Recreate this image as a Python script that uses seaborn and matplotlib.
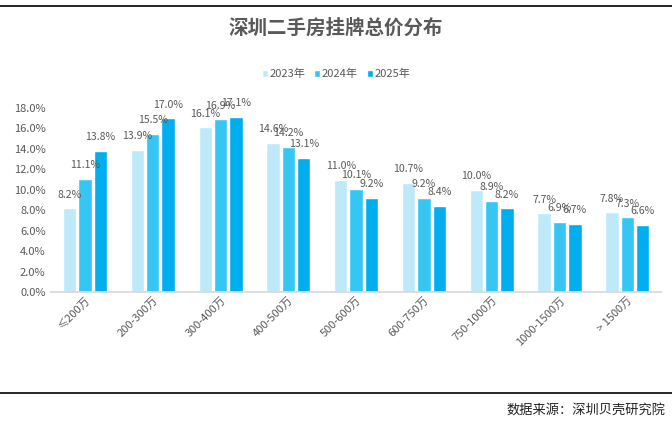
import numpy as np
import matplotlib
matplotlib.use("Agg")
import matplotlib.pyplot as plt
import pandas as pd
import seaborn as sns
from matplotlib.lines import Line2D
from matplotlib.ticker import FuncFormatter, FixedLocator

# 数据
categories = ["≤200万", "200-300万", "300-400万", "400-500万", "500-600万",
              "600-750万", "750-1000万", "1000-1500万", "> 1500万"]
years = ["2023年", "2024年", "2025年"]
v2023 = [8.2, 13.9, 16.1, 14.6, 11.0, 10.7, 10.0, 7.7, 7.8]
v2024 = [11.1, 15.5, 16.9, 14.2, 10.1, 9.2, 8.9, 6.9, 7.3]
v2025 = [13.8, 17.0, 17.1, 13.1, 9.2, 8.4, 8.2, 6.7, 6.6]
colors = ["#BDE9F9", "#35C6F4", "#00AEEF"]

df = pd.DataFrame({
    "区间": categories * 3,
    "年份": [years[0]] * 9 + [years[1]] * 9 + [years[2]] * 9,
    "占比": v2023 + v2024 + v2025,
})

sns.set_theme(style="white")
plt.rcParams['font.family'] = ['Noto Sans CJK SC', 'DejaVu Sans']
gray = "#595959"

fig = plt.figure(figsize=(6.72, 4.48), dpi=100)
ax = fig.add_axes([0.076, 0.348, 0.908, 0.411])

sns.barplot(data=df, x="区间", y="占比", hue="年份", palette=colors,
            saturation=1, width=0.68, gap=0.13, ax=ax, legend=True)

# 数据标签
for cont in ax.containers:
    for bar in cont:
        h = bar.get_height()
        ax.text(bar.get_x() + bar.get_width() / 2, h + 0.85, f"{h:.1f}%",
                ha="center", va="bottom", fontsize=7.6, color=gray, clip_on=False)

ax.set_ylim(0, 18)
ax.set_xlim(-0.5, 8.5)
ax.set_yticks(np.arange(0, 18.1, 2))
ax.yaxis.set_major_formatter(FuncFormatter(lambda v, p: f"{v:.1f}%"))
ax.set_xlabel("")
ax.set_ylabel("")
ax.tick_params(axis="y", labelsize=8, colors=gray, length=0, pad=4)
ax.tick_params(axis="x", which="major", labelsize=8, colors=gray, length=0, pad=2)
plt.setp(ax.get_xticklabels(), rotation=45, ha="right", rotation_mode="anchor")
ax.xaxis.set_minor_locator(FixedLocator(np.arange(-0.5, 9, 1)))
ax.tick_params(axis="x", which="minor", length=4, color="#D9D9D9", width=0.8, direction="out")

for s in ["top", "right", "left"]:
    ax.spines[s].set_visible(False)
ax.spines["bottom"].set_color("#D9D9D9")

# 图例（居中于整张图）
handles, labels = ax.get_legend_handles_labels()
ax.get_legend().remove()
leg = fig.legend(handles, labels, loc="center", bbox_to_anchor=(0.5, 0.835), ncol=3,
                 frameon=False, fontsize=8, handlelength=0.55, handleheight=0.55,
                 handletextpad=0.15, columnspacing=0.8)
for t in leg.get_texts():
    t.set_color(gray)

fig.text(0.5, 0.937, "深圳二手房挂牌总价分布", ha="center", va="center",
         fontsize=14, fontweight="bold", color=gray)
fig.text(0.99, 0.083, "数据来源：深圳贝壳研究院", ha="right", va="center",
         fontsize=9.5, color="#222222")

fig.add_artist(Line2D([0, 1], [0.987, 0.987], color="black", lw=1.2))
fig.add_artist(Line2D([0, 1], [0.122, 0.122], color="black", lw=1.2))

fig.savefig("out.png", dpi=100)
